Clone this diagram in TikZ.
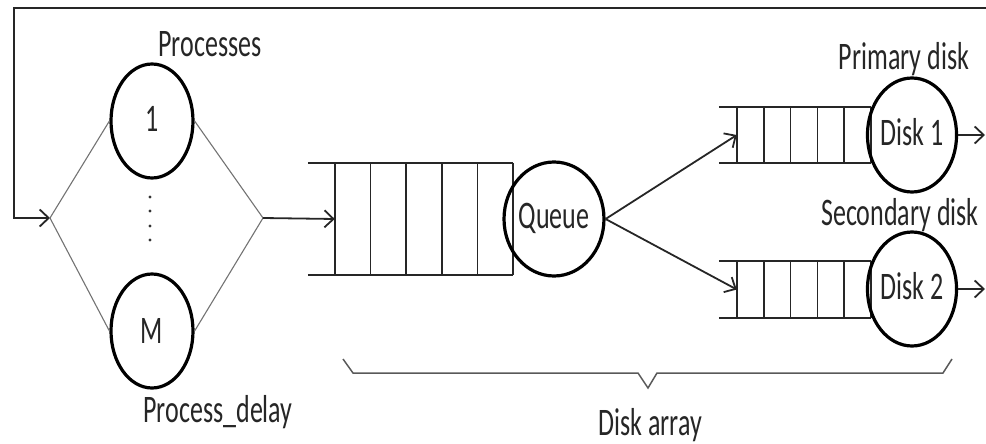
\documentclass[tikz,border=0pt]{standalone}
\usepackage{fontspec}
\setmainfont{Carlito}
\usetikzlibrary{arrows.meta,shapes.geometric,calc}
\newcommand\vstr[1]{\scalebox{1}[1.5]{#1}}
\begin{document}
\begin{tikzpicture}[x=1pt,y=-1pt,
  font=\fontsize{26}{30}\selectfont,
  proc/.style={ellipse,draw,line width=3.2pt,minimum width=82pt,minimum height=114pt,inner sep=0pt,text=black!85},
  buf/.style={draw=none,inner sep=0pt},
  conn/.style={line width=1.8pt,draw=black!85},
  thinline/.style={line width=1.1pt,draw=black!55},
  arr/.style={-{Straight Barb[length=9pt,width=17pt]}},
  lbl/.style={inner sep=0pt,anchor=base,text=black!85}
]
\useasboundingbox (0,0) rectangle (986,444);

% processes
\node[proc] (p1) at (152,121) {\raisebox{4pt}{\vstr{1}}};
\node[proc] (pM) at (152,331) {\raisebox{-10pt}{\vstr{M}}};
\coordinate (lv) at (50,218);
\coordinate (rv) at (263,218);
\draw[thinline] (lv) -- (p1.west) (lv) -- (pM.west) (rv) -- (p1.east) (rv) -- (pM.east);
\foreach \y in {197,211,226,240} \fill[black!80] (150,\y) circle (1.7pt);
\node[lbl] (lproc) at (210,57) {\vstr{Processes}};
\node[lbl] (ldelay) at (218,422) {\vstr{Process\_delay}};

% feedback loop
\coordinate (fbR) at (986,8);
\coordinate (fbL) at (14,8);
\draw[conn,arr] (fbR) -- (fbL) |- (lv);

% main queue
\node[buf,minimum width=178pt,minimum height=112pt] (q0) at (424,219) {};
\draw[conn] ($(q0.north west)+(-27,0)$) -- (q0.north east);
\draw[conn] ($(q0.south west)+(-27,0)$) -- (q0.south east);
\foreach \i in {0,...,5}
  \draw[conn] ($(q0.north west)!\i/5!(q0.north east)$) -- ($(q0.south west)!\i/5!(q0.south east)$);
\draw[conn,arr] (rv) -- (q0.west);
\node[proc] (qc) at (554,219) {\raisebox{6pt}{\vstr{Queue}}};

% disk queues
\node[buf,minimum width=134pt,minimum height=56pt] (q1) at (804,135) {};
\node[buf,minimum width=134pt,minimum height=56pt] (q2) at (804,289.5) {};
\foreach \q in {q1,q2}{
  \draw[conn] ($(\q.north west)+(-18,0)$) -- (\q.north east);
  \draw[conn] ($(\q.south west)+(-18,0)$) -- (\q.south east);
  \foreach \i in {0,...,5}
    \draw[conn] ($(\q.north west)!\i/5!(\q.north east)$) -- ($(\q.south west)!\i/5!(\q.south east)$);
}
\draw[conn,arr] (qc.east) -- (q1.west);
\draw[conn,arr] (qc.east) -- (q2.west);

\node[lbl] (lprim) at (904,70) {\vstr{Primary disk}};
\node[lbl] (lsec) at (900,225) {\vstr{Secondary disk}};
\node[proc] (d1) at (912,135) {\raisebox{7pt}{\vstr{Disk 1}}};
\node[proc] (d2) at (912,289) {\raisebox{7pt}{\vstr{Disk 2}}};
\coordinate (o1) at (985,135);
\coordinate (o2) at (985,289);
\draw[conn,arr] (d1.east) -- (o1);
\draw[conn,arr] (d2.east) -- (o2);

% brace
\coordinate (btip) at (648,388);
\draw[line width=1.5pt,draw=black!65] (343,359) -- (353,373) -- (638,373) -- (btip) -- (657,373) -- (943,373) -- (952,359);
\node[lbl] (larr) at (650,435) {\vstr{Disk array}};
\end{tikzpicture}
\end{document}
